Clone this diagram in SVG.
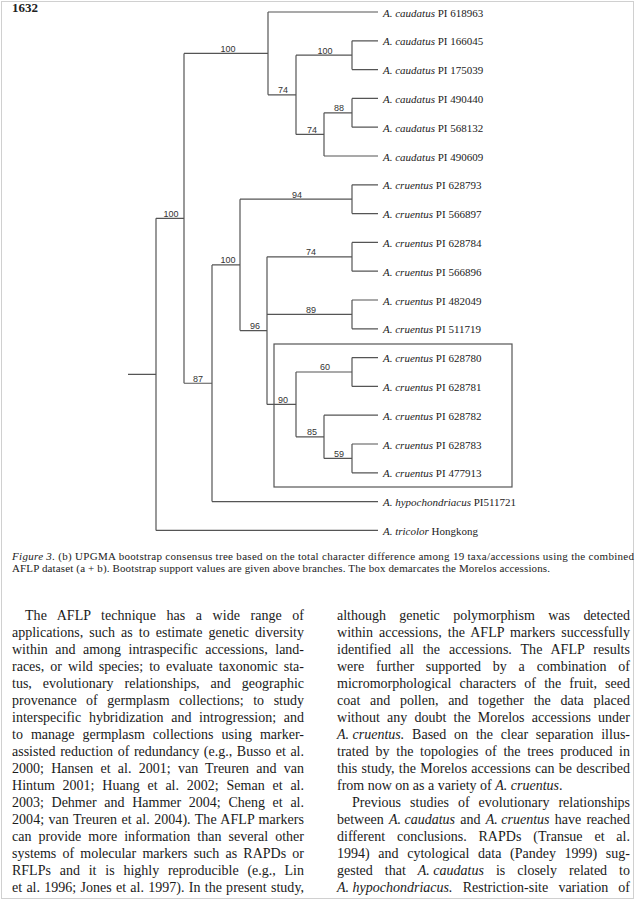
<svg xmlns="http://www.w3.org/2000/svg" width="640" height="900" viewBox="0 0 640 900">
<style>
.br{fill:none;stroke:#555;stroke-width:1.2}
.lf{font-family:"Liberation Serif","Times New Roman",serif;font-size:11px;fill:#222}
.it{font-style:italic}
.ni{font-style:italic;word-spacing:0}
.bs{font-family:"Liberation Sans",Arial,sans-serif;font-size:9px;fill:#333;text-anchor:middle}
.cap{font-family:"Liberation Serif","Times New Roman",serif;font-size:11px;fill:#222}
.bd{font-family:"Liberation Serif","Times New Roman",serif;font-size:14px;fill:#1a1a1a}
</style>
<rect x="0" y="0" width="640" height="900" fill="#fff"/>
<rect x="1.5" y="1.5" width="632" height="897" fill="none" stroke="#d0d0d0" stroke-width="1"/>
<text x="12" y="12" font-family="Liberation Serif, serif" font-size="13" font-weight="bold" fill="#222">1632</text>

<g id="connectors" class="br">
<path d="M128,374.35H156M156,218.3V530.4M156,218.3H184M156,530.4H378"/>
<path d="M184,53.4V383.25M184,53.4H268M184,383.25H212"/>
<path d="M268,12V94.8M268,12H378M268,94.8H296"/>
<path d="M296,55.2V134.4M296,55.2H352M296,134.4H324"/>
<path d="M352,40.8V69.6M352,40.8H378M352,69.6H378"/>
<path d="M324,112.8V156M324,112.8H352M324,156H378"/>
<path d="M352,98.4V127.2M352,98.4H378M352,127.2H378"/>
<path d="M212,264.9V501.6M212,264.9H240M212,501.6H378"/>
<path d="M240,199.2V330.6M240,199.2H352M240,330.6H267"/>
<path d="M352,184.8V213.6M352,184.8H378M352,213.6H378"/>
<path d="M267,256.8V404.4M267,256.8H352M267,314.4H352M267,404.4H296"/>
<path d="M352,242.4V271.2M352,242.4H378M352,271.2H378"/>
<path d="M352,300V328.8M352,300H378M352,328.8H378"/>
<path d="M296,372V436.8M296,372H352M296,436.8H324"/>
<path d="M352,357.6V386.4M352,357.6H378M352,386.4H378"/>
<path d="M324,415.2V458.4M324,415.2H378M324,458.4H352"/>
<path d="M352,444V472.8M352,444H378M352,472.8H378"/>
</g>
<rect id="morelos-box" x="274" y="344" width="238" height="143" fill="none" stroke="#555" stroke-width="1.2"/>

<g id="bootstrap">
<text class="bs" x="228" y="51.5">100</text>
<text class="bs" x="325" y="53.5">100</text>
<text class="bs" x="283" y="93">74</text>
<text class="bs" x="339" y="111">88</text>
<text class="bs" x="312" y="132.5">74</text>
<text class="bs" x="171" y="216.5">100</text>
<text class="bs" x="228" y="263">100</text>
<text class="bs" x="297" y="197.5">94</text>
<text class="bs" x="311" y="255">74</text>
<text class="bs" x="311" y="312.5">89</text>
<text class="bs" x="255" y="329">96</text>
<text class="bs" x="198" y="381.5">87</text>
<text class="bs" x="283" y="402.5">90</text>
<text class="bs" x="325" y="370">60</text>
<text class="bs" x="312" y="435">85</text>
<text class="bs" x="339" y="456.5">59</text>
</g>

<g id="leaf-caudatus-618963"><text class="lf" x="383" y="16.5"><tspan class="it">A. caudatus</tspan> PI 618963</text></g>
<g id="leaf-caudatus-166045"><text class="lf" x="383" y="45.3"><tspan class="it">A. caudatus</tspan> PI 166045</text></g>
<g id="leaf-caudatus-175039"><text class="lf" x="383" y="74.1"><tspan class="it">A. caudatus</tspan> PI 175039</text></g>
<g id="leaf-caudatus-490440"><text class="lf" x="383" y="102.9"><tspan class="it">A. caudatus</tspan> PI 490440</text></g>
<g id="leaf-caudatus-568132"><text class="lf" x="383" y="131.7"><tspan class="it">A. caudatus</tspan> PI 568132</text></g>
<g id="leaf-caudatus-490609"><text class="lf" x="383" y="160.5"><tspan class="it">A. caudatus</tspan> PI 490609</text></g>
<g id="leaf-cruentus-628793"><text class="lf" x="383" y="189.3"><tspan class="it">A. cruentus</tspan> PI 628793</text></g>
<g id="leaf-cruentus-566897"><text class="lf" x="383" y="218.1"><tspan class="it">A. cruentus</tspan> PI 566897</text></g>
<g id="leaf-cruentus-628784"><text class="lf" x="383" y="246.9"><tspan class="it">A. cruentus</tspan> PI 628784</text></g>
<g id="leaf-cruentus-566896"><text class="lf" x="383" y="275.7"><tspan class="it">A. cruentus</tspan> PI 566896</text></g>
<g id="leaf-cruentus-482049"><text class="lf" x="383" y="304.5"><tspan class="it">A. cruentus</tspan> PI 482049</text></g>
<g id="leaf-cruentus-511719"><text class="lf" x="383" y="333.3"><tspan class="it">A. cruentus</tspan> PI 511719</text></g>
<g id="leaf-cruentus-628780"><text class="lf" x="383" y="362.1"><tspan class="it">A. cruentus</tspan> PI 628780</text></g>
<g id="leaf-cruentus-628781"><text class="lf" x="383" y="390.9"><tspan class="it">A. cruentus</tspan> PI 628781</text></g>
<g id="leaf-cruentus-628782"><text class="lf" x="383" y="419.7"><tspan class="it">A. cruentus</tspan> PI 628782</text></g>
<g id="leaf-cruentus-628783"><text class="lf" x="383" y="448.5"><tspan class="it">A. cruentus</tspan> PI 628783</text></g>
<g id="leaf-cruentus-477913"><text class="lf" x="383" y="477.3"><tspan class="it">A. cruentus</tspan> PI 477913</text></g>
<g id="leaf-hypochondriacus"><text class="lf" x="383" y="506.1"><tspan class="it">A. hypochondriacus</tspan> PI511721</text></g>
<g id="leaf-tricolor"><text class="lf" x="383" y="534.9"><tspan class="it">A. tricolor</tspan> Hongkong</text></g>

<g id="caption">
<text class="cap" x="12" y="560" textLength="622" lengthAdjust="spacing"><tspan class="it">Figure 3.</tspan> (b) UPGMA bootstrap consensus tree based on the total character difference among 19 taxa/accessions using the combined</text>
<text class="cap" x="12" y="572" textLength="538" lengthAdjust="spacing">AFLP dataset (a + b). Bootstrap support values are given above branches. The box demarcates the Morelos accessions.</text>
</g>

<g id="body-left" class="bd">
<text x="25" y="620" word-spacing="7" textLength="279" lengthAdjust="spacing">The AFLP technique has a wide range of</text>
<text x="12" y="637" word-spacing="2.6" textLength="292" lengthAdjust="spacing">applications, such as to estimate genetic diversity</text>
<text x="12" y="654" word-spacing="4" textLength="292" lengthAdjust="spacing">within and among intraspecific accessions, land-</text>
<text x="12" y="671" word-spacing="2.5" textLength="292" lengthAdjust="spacing">races, or wild species; to evaluate taxonomic sta-</text>
<text x="12" y="688" word-spacing="7.5" textLength="292" lengthAdjust="spacing">tus, evolutionary relationships, and geographic</text>
<text x="12" y="705" word-spacing="6" textLength="292" lengthAdjust="spacing">provenance of germplasm collections; to study</text>
<text x="12" y="722" word-spacing="4.2" textLength="292" lengthAdjust="spacing">interspecific hybridization and introgression; and</text>
<text x="12" y="739" word-spacing="4.5" textLength="292" lengthAdjust="spacing">to manage germplasm collections using marker-</text>
<text x="12" y="756" word-spacing="1.1" textLength="292" lengthAdjust="spacing">assisted reduction of redundancy (e.g., Busso et al.</text>
<text x="12" y="773" word-spacing="3.7" textLength="292" lengthAdjust="spacing">2000; Hansen et al. 2001; van Treuren and van</text>
<text x="12" y="790" word-spacing="4.3" textLength="292" lengthAdjust="spacing">Hintum 2001; Huang et al. 2002; Seman et al.</text>
<text x="12" y="807" word-spacing="4.2" textLength="292" lengthAdjust="spacing">2003; Dehmer and Hammer 2004; Cheng et al.</text>
<text x="12" y="824" word-spacing="0.8" textLength="292" lengthAdjust="spacing">2004; van Treuren et al. 2004). The AFLP markers</text>
<text x="12" y="841" word-spacing="3.6" textLength="292" lengthAdjust="spacing">can provide more information than several other</text>
<text x="12" y="858" word-spacing="2.7" textLength="292" lengthAdjust="spacing">systems of molecular markers such as RAPDs or</text>
<text x="12" y="875" word-spacing="5.3" textLength="292" lengthAdjust="spacing">RFLPs and it is highly reproducible (e.g., Lin</text>
<text x="12" y="892" word-spacing="0.7" textLength="292" lengthAdjust="spacing">et al. 1996; Jones et al. 1997). In the present study,</text>
</g>

<g id="body-right" class="bd">
<text x="337" y="620" word-spacing="9.9" textLength="293" lengthAdjust="spacing">although genetic polymorphism was detected</text>
<text x="337" y="637" word-spacing="2.5" textLength="293" lengthAdjust="spacing">within accessions, the AFLP markers successfully</text>
<text x="337" y="654" word-spacing="5.3" textLength="293" lengthAdjust="spacing">identified all the accessions. The AFLP results</text>
<text x="337" y="671" word-spacing="8.3" textLength="293" lengthAdjust="spacing">were further supported by a combination of</text>
<text x="337" y="688" word-spacing="4.6" textLength="293" lengthAdjust="spacing">micromorphological characters of the fruit, seed</text>
<text x="337" y="705" word-spacing="6.2" textLength="293" lengthAdjust="spacing">coat and pollen, and together the data placed</text>
<text x="337" y="722" word-spacing="3.7" textLength="293" lengthAdjust="spacing">without any doubt the Morelos accessions under</text>
<text x="337" y="739" word-spacing="4.3" textLength="293" lengthAdjust="spacing"><tspan class="ni">A. cruentus.</tspan> Based on the clear separation illus-</text>
<text x="337" y="756" word-spacing="3.2" textLength="293" lengthAdjust="spacing">trated by the topologies of the trees produced in</text>
<text x="337" y="773" word-spacing="0.75" textLength="293" lengthAdjust="spacing">this study, the Morelos accessions can be described</text>
<text x="337" y="790">from now on as a variety of <tspan class="it">A. cruentus</tspan>.</text>
<text x="352" y="807" word-spacing="5.5" textLength="278" lengthAdjust="spacing">Previous studies of evolutionary relationships</text>
<text x="337" y="824" word-spacing="1.7" textLength="293" lengthAdjust="spacing">between <tspan class="ni">A. caudatus</tspan> and <tspan class="ni">A. cruentus</tspan> have reached</text>
<text x="337" y="841" word-spacing="8.3" textLength="293" lengthAdjust="spacing">different conclusions. RAPDs (Transue et al.</text>
<text x="337" y="858" word-spacing="5.1" textLength="293" lengthAdjust="spacing">1994) and cytological data (Pandey 1999) sug-</text>
<text x="337" y="875" word-spacing="8.5" textLength="293" lengthAdjust="spacing">gested that <tspan class="ni">A. caudatus</tspan> is closely related to</text>
<text x="337" y="892" word-spacing="6.7" textLength="293" lengthAdjust="spacing"><tspan class="ni">A. hypochondriacus.</tspan> Restriction-site variation of</text>
</g>
</svg>
